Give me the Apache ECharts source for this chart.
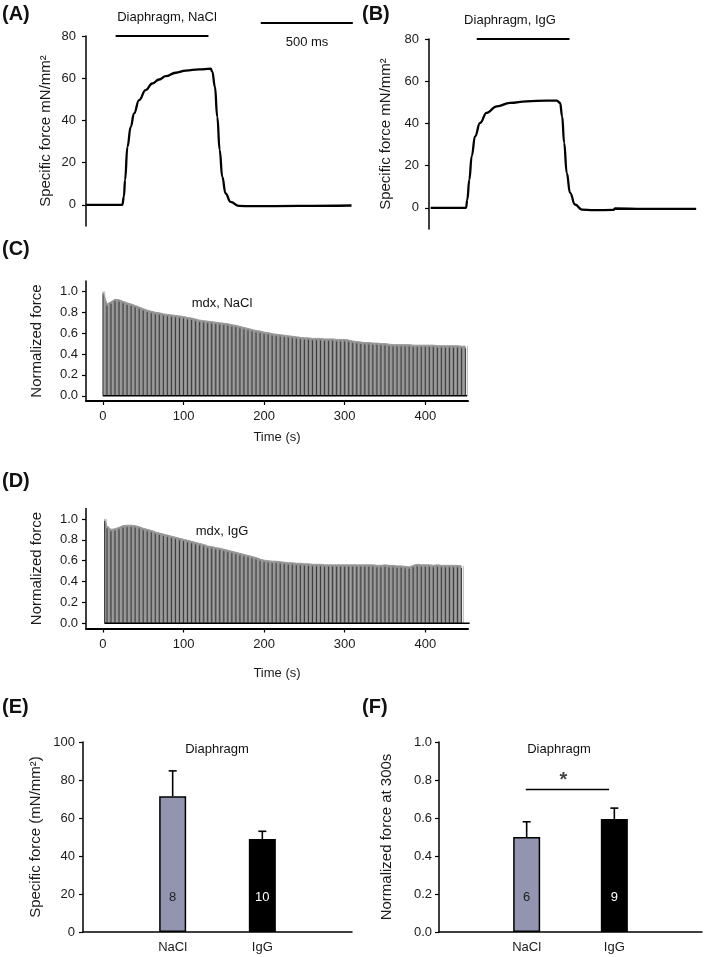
<!DOCTYPE html>
<html>
<head>
<meta charset="utf-8">
<script src="https://cdn.jsdelivr.net/npm/echarts@6/dist/echarts.min.js"></script>
<style>
html,body{margin:0;padding:0;background:#fff;}
#chart{width:709px;height:957px;}
</style>
</head>
<body>
<div id="chart"></div>
<script>
// ---------- DATA ----------
// Panel A: single tetanus, NaCl (time ms, force mN/mm2)
const timeA  = [0, 197, 206, 212, 225, 243, 261, 288, 324, 360, 397, 433, 487, 542, 614, 677, 686, 700, 713, 726, 740, 758, 785, 830, 902, 1156, 1442];
const forceA = [0, 0, 4, 11.7, 27.5, 37, 43.3, 49.6, 54.4, 57.5, 59.4, 61, 62.6, 63.6, 64.2, 64.5, 63, 56, 41.7, 26, 13.3, 5.4, 1.4, -0.5, -0.6, -0.5, -0.3];
const stimA = [161, 665];
// Panel B: single tetanus, IgG
const timeB  = [9, 201, 208, 219, 232, 250, 277, 313, 368, 440, 531, 640, 694, 712, 723, 734, 748, 766, 793, 830, 893, 1002, 1011, 1165, 1451];
const forceB = [0, 0, 3.9, 13.4, 24.5, 33.9, 40.2, 45, 48.1, 49.7, 50.5, 50.8, 50.8, 49.7, 43.4, 30.8, 16.6, 7.1, 1.6, -0.8, -1.1, -0.95, -0.3, -0.5, -0.5];
const stimB = [259, 763];
const scaleBarMs = [949, 1449];

// Panel C: fatigue, mdx NaCl (time s, normalized peak force)
const timeC = [0,5,10,15,20,25,30,35,40,45,50,55,60,65,70,75,80,85,90,95,100,105,110,115,120,125,130,135,140,145,150,155,160,165,170,175,180,185,190,195,200,205,210,215,220,225,230,235,240,245,250,255,260,265,270,275,280,285,290,295,300,305,310,315,320,325,330,335,340,345,350,355,360,365,370,375,380,385,390,395,400,405,410,415,420,425,430,435,440,445,450];
const peakC = [1.00,0.88,0.90,0.925,0.92,0.905,0.89,0.88,0.865,0.85,0.835,0.82,0.81,0.80,0.795,0.785,0.78,0.775,0.77,0.765,0.76,0.75,0.745,0.735,0.725,0.72,0.715,0.71,0.705,0.70,0.695,0.69,0.68,0.675,0.665,0.655,0.645,0.635,0.625,0.62,0.61,0.605,0.595,0.59,0.585,0.58,0.575,0.57,0.565,0.56,0.555,0.555,0.55,0.55,0.55,0.545,0.545,0.545,0.54,0.54,0.54,0.535,0.525,0.52,0.515,0.51,0.51,0.505,0.505,0.50,0.50,0.495,0.49,0.49,0.49,0.49,0.49,0.485,0.485,0.485,0.485,0.485,0.485,0.48,0.48,0.48,0.48,0.48,0.48,0.475,0.475];
// Panel D: fatigue, mdx IgG
const timeD = [2,5,10,15,20,25,30,35,40,45,50,55,60,65,70,75,80,85,90,95,100,105,110,115,120,125,130,135,140,145,150,155,160,165,170,175,180,185,190,195,200,205,210,215,220,225,230,235,240,245,250,255,260,265,270,275,280,285,290,295,300,305,310,315,320,325,330,335,340,345,350,355,360,365,370,375,380,385,390,395,400,405,410,415,420,425,430,435,440,445];
const peakD = [1.00,0.93,0.90,0.905,0.92,0.935,0.94,0.94,0.935,0.925,0.91,0.90,0.89,0.875,0.865,0.855,0.845,0.835,0.825,0.815,0.805,0.795,0.785,0.775,0.765,0.755,0.74,0.735,0.725,0.72,0.71,0.70,0.69,0.68,0.67,0.66,0.65,0.64,0.63,0.615,0.605,0.60,0.595,0.595,0.59,0.585,0.58,0.58,0.575,0.575,0.57,0.57,0.565,0.565,0.565,0.56,0.56,0.56,0.56,0.56,0.56,0.56,0.56,0.56,0.56,0.56,0.56,0.56,0.555,0.555,0.56,0.555,0.555,0.55,0.55,0.545,0.54,0.555,0.565,0.56,0.56,0.56,0.555,0.56,0.555,0.555,0.555,0.555,0.555,0.55];
const endC = 452, endD = 455;
const timeTicks = [0, 100, 200, 300, 400];
const normTicks = [0, 0.2, 0.4, 0.6, 0.8, 1.0];

// Panels E / F: group means, upper SEM, n
const groups = ['NaCl', 'IgG'];
const specForceMean = [71.4, 48.9];
const specForceUpper = [84.8, 53.0];
const specForceN = [8, 10];
const norm300Mean = [0.50, 0.595];
const norm300Upper = [0.58, 0.652];
const norm300N = [6, 9];
const sigLevel = 0.75;

// ---------- STYLE ----------
const FONT = 'Liberation Sans, Arial, sans-serif';
const TXT = '#1a1a1a';
const barColors = ['#9394b0', '#000000'];

function yAx(gi, min, max, ticks, name, gap, fmt, margin) {
  return {
    gridIndex: gi, type: 'value', min: min, max: max,
    axisLine: {show: true, onZero: false, lineStyle: {color: '#000', width: 1.5}},
    axisTick: {show: true, length: 4, customValues: ticks, lineStyle: {color: '#000', width: 1.2}},
    axisLabel: {customValues: ticks, margin: margin, fontSize: 13, color: TXT, fontFamily: FONT, formatter: fmt},
    splitLine: {show: false},
    name: name, nameLocation: 'middle', nameGap: gap,
    nameTextStyle: {fontSize: 15, color: TXT, fontFamily: FONT}
  };
}
function timeX(gi, gap) {
  return {
    gridIndex: gi, type: 'value', min: -21, max: 453,
    axisLine: {show: true, onZero: false, lineStyle: {color: '#000', width: 2}},
    axisTick: {show: true, length: 4, customValues: timeTicks, lineStyle: {color: '#000', width: 1.2}},
    axisLabel: {customValues: timeTicks, margin: 9, fontSize: 13, color: TXT, fontFamily: FONT},
    splitLine: {show: false},
    name: 'Time (s)', nameLocation: 'middle', nameGap: gap,
    nameTextStyle: {fontSize: 13, color: TXT, fontFamily: FONT}
  };
}
function groupX(gi) {
  return {
    gridIndex: gi, type: 'value', min: 0, max: 3,
    axisLine: {show: true, onZero: false, lineStyle: {color: '#000', width: 1.5}},
    axisTick: {show: false},
    axisLabel: {customValues: [1, 2], margin: 9, fontSize: 13, color: TXT, fontFamily: FONT,
      formatter: v => groups[Math.round(v) - 1]},
    splitLine: {show: false}
  };
}
const f1 = v => v.toFixed(1);
const f0 = v => String(v);

function traceSeries(gi, t, f) {
  return {type: 'line', xAxisIndex: gi, yAxisIndex: gi, data: t.map((x, i) => [x, f[i]]),
    symbol: 'none', smooth: 0.45, smoothMonotone: 'x',
    lineStyle: {color: '#000', width: 2.3}, silent: true};
}
function hBar(gi, xs, y) {
  return {type: 'line', xAxisIndex: gi, yAxisIndex: gi, data: [[xs[0], y], [xs[1], y]],
    symbol: 'none', clip: false, lineStyle: {color: '#000', width: 2}, silent: true};
}
function fatigueSeries(gi, t, p, end) {
  const pts = t.map((x, i) => [x, p[i]]);
  return [
    {type: 'line', xAxisIndex: gi, yAxisIndex: gi, data: pts, symbol: 'none',
      lineStyle: {color: '#9a9a9a', width: 1}, areaStyle: {color: '#8c8c8c', opacity: 1}, silent: true},
    {type: 'custom', xAxisIndex: gi, yAxisIndex: gi, data: pts, silent: true, z: 3,
      renderItem: function (params, api) {
        const top = api.coord([api.value(0), api.value(1)]);
        const bot = api.coord([api.value(0), 0]);
        return {type: 'group', children: [
          {type: 'line', shape: {x1: top[0], y1: top[1] + 2, x2: bot[0], y2: bot[1]},
            style: {stroke: '#3c3c3c', lineWidth: 1}},
          {type: 'line', shape: {x1: top[0] + 1.8, y1: top[1], x2: top[0] + 1.8, y2: bot[1]},
            style: {stroke: '#a8a8a8', lineWidth: 0.8}}
        ]};
      }},
    {type: 'line', xAxisIndex: gi, yAxisIndex: gi, data: [[t[0], 0], [end, 0]], symbol: 'none', z: 4,
      lineStyle: {color: '#000', width: 1.5}, silent: true}
  ];
}
function errSeries(gi, means, uppers) {
  return {type: 'custom', xAxisIndex: gi, yAxisIndex: gi, silent: true, z: 1,
    data: means.map((m, i) => [i + 1, m, uppers[i]]),
    renderItem: function (params, api) {
      const p1 = api.coord([api.value(0), api.value(1)]);
      const p2 = api.coord([api.value(0), api.value(2)]);
      const st = {stroke: '#000', lineWidth: 1.6};
      return {type: 'group', children: [
        {type: 'line', shape: {x1: p1[0], y1: p1[1], x2: p2[0], y2: p2[1]}, style: st},
        {type: 'line', shape: {x1: p2[0] - 4, y1: p2[1], x2: p2[0] + 4, y2: p2[1]}, style: st}
      ]};
    }};
}
function barSeries(gi, means, ns) {
  return {type: 'bar', xAxisIndex: gi, yAxisIndex: gi, barWidth: 27, z: 3,
    data: means.map((m, i) => ({value: [i + 1, m],
      itemStyle: {color: barColors[i], borderColor: '#000', borderWidth: 1.5},
      label: {show: true, position: 'insideBottom', distance: 28, formatter: String(ns[i]),
        color: i === 0 ? '#222' : '#fff', fontSize: 13, fontFamily: FONT}})),
    silent: true};
}

function txt(x, y, s, size, bold, align) {
  return {type: 'text', x: x, y: y, silent: true, style: {
    text: s, font: (bold ? 'bold ' : '') + size + 'px ' + FONT, fill: '#111',
    align: align || 'center', textAlign: align || 'center',
    verticalAlign: 'middle', textVerticalAlign: 'middle'}};
}

const option = {
  animation: false,
  backgroundColor: '#fff',
  grid: [
    {left: 86, top: 36, width: 267, height: 190},
    {left: 429, top: 39, width: 267, height: 190},
    {left: 86, top: 281, width: 382, height: 120},
    {left: 86, top: 508.5, width: 382, height: 120},
    {left: 83, top: 742, width: 269, height: 190},
    {left: 439, top: 742, width: 263, height: 190}
  ],
  xAxis: [
    {gridIndex: 0, type: 'value', min: 0, max: 1450, show: false},
    {gridIndex: 1, type: 'value', min: 0, max: 1450, show: false},
    timeX(2, 30),
    timeX(3, 38),
    groupX(4),
    groupX(5)
  ],
  yAxis: [
    yAx(0, -10, 80, [0, 20, 40, 60, 80], 'Specific force mN/mm²', 33, f0, 10),
    yAx(1, -10, 80, [0, 20, 40, 60, 80], 'Specific force mN/mm²', 36, f0, 10),
    yAx(2, -0.05, 1.1, normTicks, 'Normalized force', 42, f1, 8),
    yAx(3, -0.05, 1.1, normTicks, 'Normalized force', 42, f1, 8),
    yAx(4, 0, 100, [0, 20, 40, 60, 80, 100], 'Specific force (mN/mm²)', 40, f0, 8),
    yAx(5, 0, 1.0, normTicks, 'Normalized force at 300s', 45, f1, 7)
  ],
  series: [
    traceSeries(0, timeA, forceA),
    hBar(0, stimA, 80),
    hBar(0, scaleBarMs, 86.2),
    traceSeries(1, timeB, forceB),
    hBar(1, stimB, 80),
    ...fatigueSeries(2, timeC, peakC, endC),
    ...fatigueSeries(3, timeD, peakD, endD),
    errSeries(4, specForceMean, specForceUpper),
    barSeries(4, specForceMean, specForceN),
    errSeries(5, norm300Mean, norm300Upper),
    barSeries(5, norm300Mean, norm300N),
    {type: 'line', xAxisIndex: 5, yAxisIndex: 5, data: [[0.99, sigLevel], [1.94, sigLevel]],
      symbol: 'none', lineStyle: {color: '#000', width: 1.5}, silent: true},
    {type: 'scatter', xAxisIndex: 5, yAxisIndex: 5, data: [[1.42, 0.80]], symbolSize: 1,
      itemStyle: {color: 'rgba(0,0,0,0)'}, silent: true,
      label: {show: true, position: 'inside', formatter: '*', fontSize: 20, fontWeight: 'bold', color: '#111', fontFamily: FONT}}
  ],
  graphic: [
    txt(2, 14, '(A)', 20, true, 'left'),
    txt(167, 17, 'Diaphragm, NaCl', 13, false),
    txt(307, 42, '500 ms', 13, false),
    txt(362, 14, '(B)', 20, true, 'left'),
    txt(510, 20, 'Diaphragm, IgG', 13, false),
    txt(2, 249, '(C)', 20, true, 'left'),
    txt(222, 303, 'mdx, NaCl', 13, false),
    txt(2, 481, '(D)', 20, true, 'left'),
    txt(222, 531, 'mdx, IgG', 13, false),
    txt(2, 707, '(E)', 20, true, 'left'),
    txt(217, 749, 'Diaphragm', 13, false),
    txt(362, 707, '(F)', 20, true, 'left'),
    txt(559, 749, 'Diaphragm', 13, false)
  ]
};

const chart = echarts.init(document.getElementById('chart'), null, {renderer: 'canvas'});
chart.setOption(option);
</script>
</body>
</html>
